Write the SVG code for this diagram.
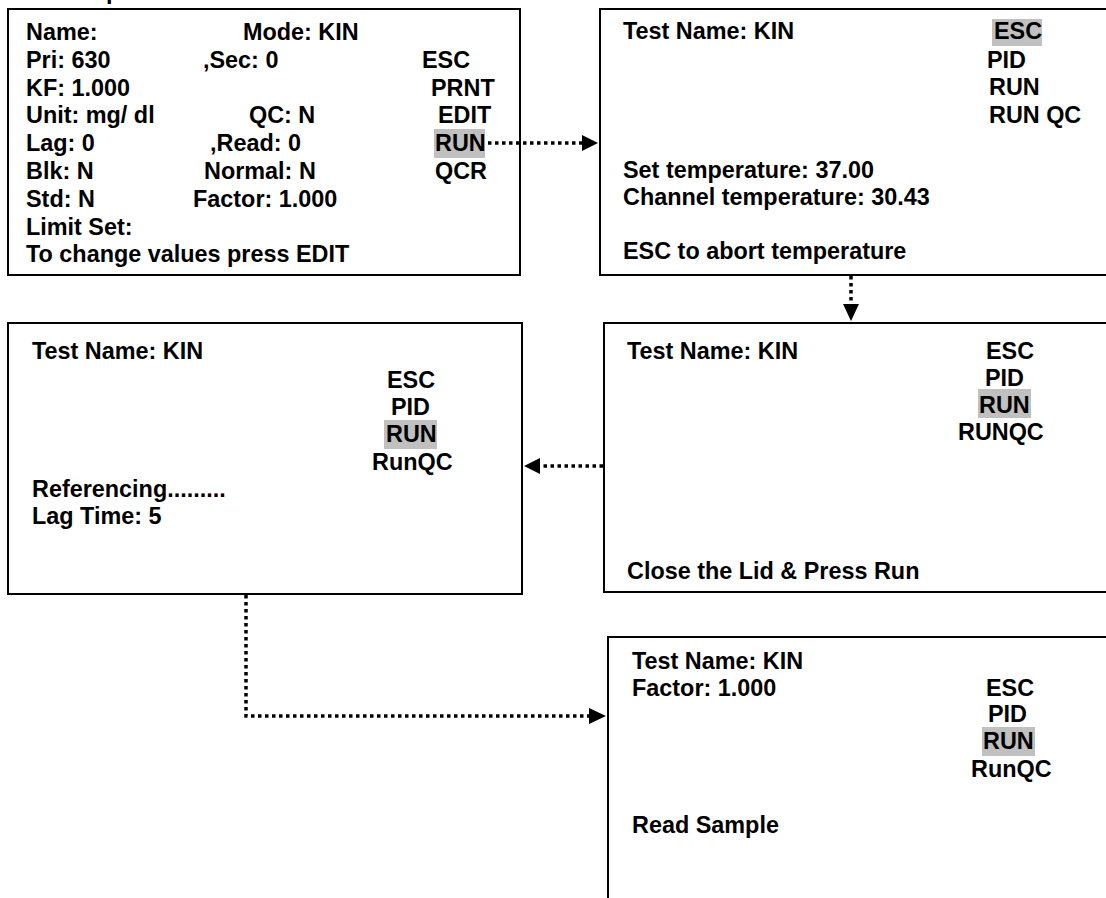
<svg xmlns="http://www.w3.org/2000/svg" width="1106" height="898" viewBox="0 0 1106 898">
<defs>
<style>
.box{fill:#fff;stroke:#000;stroke-width:2}
text{font-family:"Liberation Sans",Arial,sans-serif;font-weight:bold;font-size:23.4px;fill:#000}
.hl{fill:#c0c0c0}
.con{fill:none;stroke:#000;stroke-width:3.5;stroke-dasharray:3.5 3.5}
</style>
</defs>
<rect width="1106" height="898" fill="#fff"/>
<text x="106" y="-1">p</text>
<g id="node1">
<rect class="box" x="8" y="9" width="512" height="266"/>
<rect class="hl" x="434" y="129" width="51" height="29"/>
<text x="26" y="40">Name:</text>
<text x="243" y="40">Mode: KIN</text>
<text x="26" y="67.8">Pri: 630</text>
<text x="203" y="67.8">,Sec: 0</text>
<text x="422" y="67.8">ESC</text>
<text x="26" y="95.6">KF: 1.000</text>
<text x="431" y="95.6">PRNT</text>
<text x="26" y="123.4">Unit: mg/ dl</text>
<text x="249" y="123.4">QC: N</text>
<text x="438" y="123.4">EDIT</text>
<text x="26" y="151.2">Lag: 0</text>
<text x="210" y="151.2">,Read: 0</text>
<text x="435" y="151.2">RUN</text>
<text x="26" y="179">Blk: N</text>
<text x="204" y="179">Normal: N</text>
<text x="435" y="179">QCR</text>
<text x="26" y="206.8">Std: N</text>
<text x="193" y="206.8">Factor: 1.000</text>
<text x="26" y="234.6">Limit Set:</text>
<text x="26" y="262.4">To change values press EDIT</text>
</g>
<g id="node2">
<rect class="box" x="600" y="9" width="520" height="266"/>
<rect class="hl" x="992" y="19" width="50" height="27"/>
<text x="623" y="39">Test Name: KIN</text>
<text x="994" y="39">ESC</text>
<text x="987" y="67.5">PID</text>
<text x="989" y="95">RUN</text>
<text x="989" y="122.5">RUN QC</text>
<text x="623" y="177.5">Set temperature: 37.00</text>
<text x="623" y="204.5">Channel temperature: 30.43</text>
<text x="623" y="259">ESC to abort temperature</text>
</g>
<g id="node3">
<rect class="box" x="604" y="323" width="520" height="269"/>
<rect class="hl" x="978" y="389" width="53" height="29"/>
<text x="627" y="358.5">Test Name: KIN</text>
<text x="986" y="358.5">ESC</text>
<text x="985" y="385.5">PID</text>
<text x="979" y="412.5">RUN</text>
<text x="958" y="439.5">RUNQC</text>
<text x="627" y="578.5">Close the Lid &amp; Press Run</text>
</g>
<g id="node4">
<rect class="box" x="8" y="323" width="514" height="271"/>
<rect class="hl" x="384" y="420" width="53" height="29"/>
<text x="32" y="358.5">Test Name: KIN</text>
<text x="387" y="387.5">ESC</text>
<text x="391" y="414.5">PID</text>
<text x="386" y="442">RUN</text>
<text x="372" y="469.5">RunQC</text>
<text x="32" y="496.5">Referencing.........</text>
<text x="32" y="523.5">Lag Time: 5</text>
</g>
<g id="node5">
<rect class="box" x="608" y="637" width="520" height="280"/>
<rect class="hl" x="982" y="727" width="53" height="29"/>
<text x="632" y="668.5">Test Name: KIN</text>
<text x="632" y="695.5">Factor: 1.000</text>
<text x="986" y="695.5">ESC</text>
<text x="988" y="722">PID</text>
<text x="983" y="749">RUN</text>
<text x="971" y="776.5">RunQC</text>
<text x="632" y="832.5">Read Sample</text>
</g>
<g id="connectors">
<path class="con" d="M488,143 H584"/>
<path d="M582,135 L598,143 L582,151 Z" fill="#000"/>
<path class="con" d="M851,276 V305"/>
<path d="M843,304 L851,321 L859,304 Z" fill="#000"/>
<path class="con" d="M603,466 H540"/>
<path d="M540,458 L524,466 L540,474 Z" fill="#000"/>
<path class="con" d="M246,595 V716 H590"/>
<path d="M589,708 L606,716 L589,724 Z" fill="#000"/>
</g>
</svg>
